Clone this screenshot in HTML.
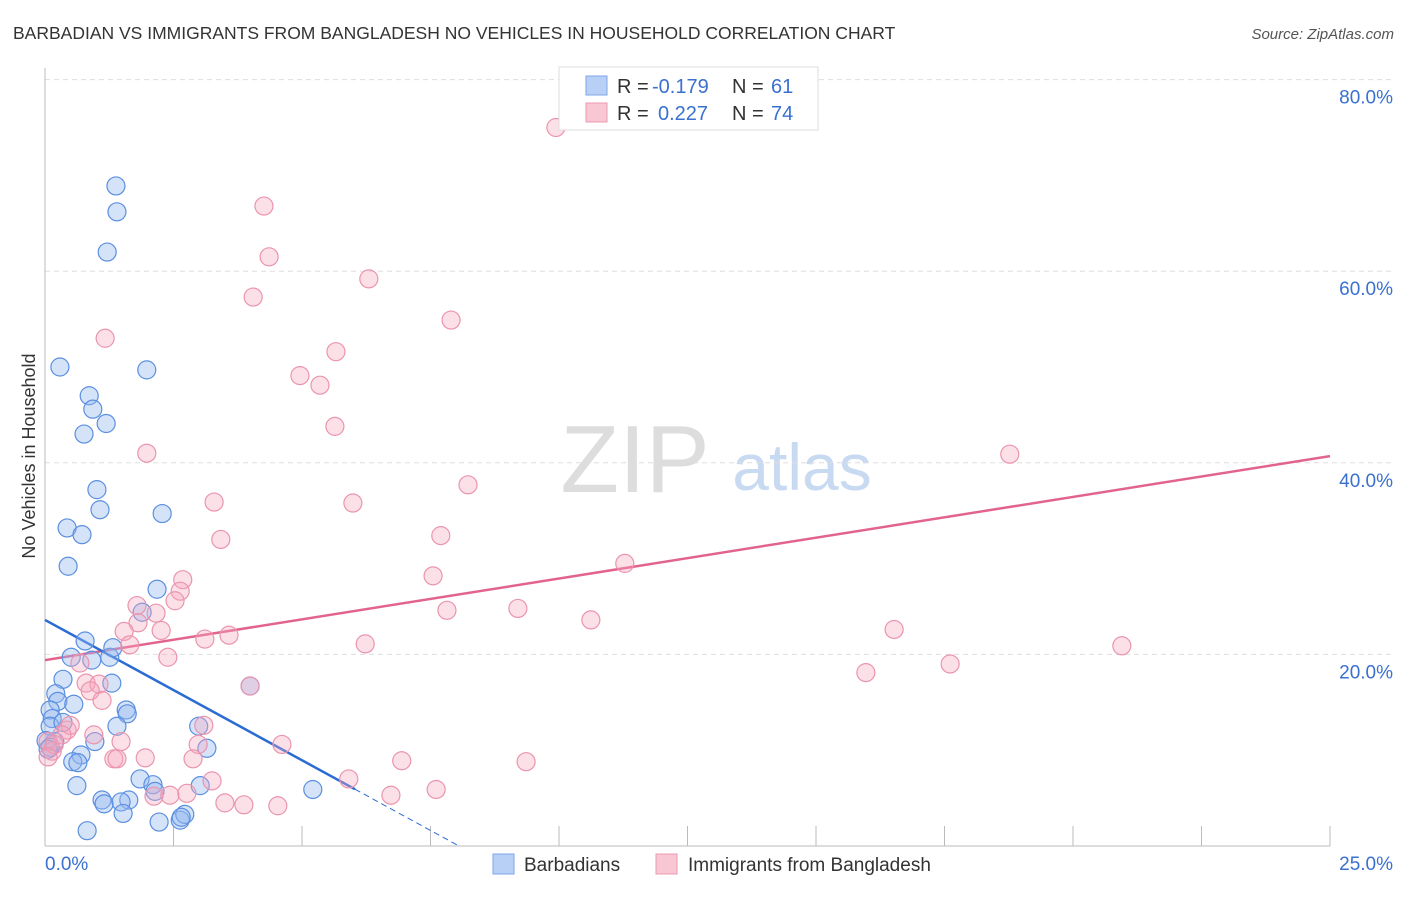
<!DOCTYPE html>
<html><head><meta charset="utf-8"><style>
body{margin:0;background:#fff;font-family:"Liberation Sans",sans-serif;}
svg text{font-family:"Liberation Sans",sans-serif;}
</style></head><body>
<svg id="chart" width="1406" height="892" xmlns="http://www.w3.org/2000/svg">
<text x="13" y="39" font-size="17.5" fill="#333">BARBADIAN VS IMMIGRANTS FROM BANGLADESH NO VEHICLES IN HOUSEHOLD CORRELATION CHART</text>
<text x="1394" y="39" font-size="15" fill="#555" font-style="italic" text-anchor="end">Source: ZipAtlas.com</text>
<text x="35" y="456" font-size="18" fill="#333" text-anchor="middle" transform="rotate(-90 35 456)">No Vehicles in Household</text>
<g><text x="635" y="492" font-size="96" fill="#ddd" font-family="Liberation Serif" text-anchor="middle">ZIP</text><text x="802" y="490" font-size="66" fill="#c8daf2" text-anchor="middle">atlas</text></g>
<g id="grid"></g><g id="axes"></g><g id="lines"></g><g id="pts"></g>
<g>
<rect x="559" y="67" width="259" height="63" fill="#fff" stroke="#ddd"/>
<rect x="586" y="76" width="21" height="19" fill="#b8d0f5" stroke="#7fa6e8"/>
<rect x="586" y="103" width="21" height="19" fill="#f9c6d4" stroke="#eb9ab2"/>
<text x="617" y="93" font-size="20" fill="#333">R =</text><text x="652" y="93" font-size="20" fill="#3a70d0">-0.179</text>
<text x="732" y="93" font-size="20" fill="#333">N =</text><text x="771" y="93" font-size="20" fill="#3a70d0">61</text>
<text x="617" y="120" font-size="20" fill="#333">R =</text><text x="658" y="120" font-size="20" fill="#3a70d0">0.227</text>
<text x="732" y="120" font-size="20" fill="#333">N =</text><text x="771" y="120" font-size="20" fill="#3a70d0">74</text>
</g>
<g>
<rect x="493" y="854" width="21" height="20" fill="#b8d0f5" stroke="#7fa6e8"/>
<text x="524" y="871" font-size="19" fill="#333">Barbadians</text>
<rect x="656" y="854" width="21" height="20" fill="#f9c6d4" stroke="#eb9ab2"/>
<text x="688" y="871" font-size="19" fill="#333">Immigrants from Bangladesh</text>
</g>
</svg>
<script>
const yTicks=[20,40,60,80];
const yTickLabels=["20.0%","40.0%","60.0%","80.0%"];
const xTickLabels=["0.0%","25.0%"];
const blueX=[1.38,1.40,1.21,0.29,1.98,0.86,0.93,1.19,0.76,1.01,1.07,2.28,0.43,0.72,0.45,2.18,1.89,0.78,0.51,0.91,1.26,1.32,1.30,0.35,0.21,0.25,0.56,0.10,0.14,0.10,1.58,1.60,1.40,2.99,0.35,0.19,0.97,0.70,0.54,0.64,3.15,3.99,0.62,1.85,2.10,2.14,1.11,1.15,1.63,1.48,1.52,2.22,2.63,2.72,5.21,0.82,0.02,0.10,0.06,3.02,2.65];
const blueY=[68.9,66.2,62.0,50.0,49.7,47.0,45.6,44.1,43.0,37.2,35.1,34.7,33.2,32.5,29.2,26.8,24.4,21.4,19.7,19.4,19.7,20.7,17.0,17.4,15.9,15.1,14.8,14.2,13.3,12.5,14.2,13.8,12.5,12.5,12.9,10.9,10.9,9.5,8.8,8.7,10.2,16.7,6.3,7.0,6.4,5.7,4.8,4.4,4.8,4.6,3.4,2.5,2.7,3.3,5.9,1.6,11.0,10.3,10.1,6.3,3.0];
const pinkX=[9.94,4.26,4.36,6.30,4.05,7.90,1.17,5.66,4.96,5.35,5.64,1.98,18.77,3.29,5.99,8.23,3.42,7.70,11.28,7.55,2.68,2.63,2.53,1.79,2.16,1.81,1.54,2.26,7.82,9.20,10.62,3.58,3.11,1.65,6.23,2.39,0.68,16.52,20.95,17.61,15.97,3.99,0.80,1.05,0.88,1.11,3.09,0.43,0.49,0.33,0.95,1.48,0.06,0.14,0.18,2.98,4.61,1.34,1.40,1.95,2.88,6.94,9.36,3.25,5.91,2.12,2.43,2.76,3.50,3.87,4.53,6.73,7.61,0.06];
const pinkY=[75.0,66.8,61.5,59.2,57.3,54.9,53.0,51.6,49.1,48.1,43.8,41.0,40.9,35.9,35.8,37.7,32.0,32.4,29.5,28.2,27.8,26.6,25.6,25.1,24.3,23.3,22.4,22.5,24.6,24.8,23.6,22.0,21.6,21.0,21.1,19.7,19.1,22.6,20.9,19.0,18.1,16.7,17.0,16.9,16.2,15.2,12.6,12.1,12.6,11.6,11.6,10.9,10.9,9.9,10.6,10.6,10.6,9.1,9.1,9.2,9.1,8.9,8.8,6.8,7.0,5.2,5.3,5.5,4.5,4.3,4.2,5.3,5.9,9.3];
const pinkTrend=[19.4,40.7];   // value at x=0 and x=25
const blueTrend=[23.6,-2.93]; // intercept, slope
const blueSolidEnd=6.03, blueDashEnd=8.05;
const NS="http://www.w3.org/2000/svg";
const X0=45,X1=1330,Y0=846,PXY=9.58;
const sx=v=>X0+(X1-X0)*v/25, sy=v=>Y0-v*PXY;
function mk(t,a,p){const e=document.createElementNS(NS,t);for(const k in a)e.setAttribute(k,a[k]);p.appendChild(e);return e;}
const grid=document.getElementById('grid'),axes=document.getElementById('axes');
yTicks.forEach((v,i)=>{
 const l=mk('line',{x1:X0,x2:1395,y1:sy(v),y2:sy(v),stroke:'#ddd','stroke-dasharray':'5,4'},grid);
 
 
 const t=mk('text',{x:1393,y:sy(v)+24,'font-size':19,fill:'#3a70d0','text-anchor':'end'},axes);
 t.textContent=yTickLabels[i];
 
 
});
let a=mk('line',{x1:X0,x2:X0,y1:68,y2:Y0,stroke:'#bbb'},axes);


a=mk('line',{x1:X0,x2:X1,y1:Y0,y2:Y0,stroke:'#bbb'},axes);


for(let i=1;i<=10;i++){const t=mk('line',{x1:sx(i*2.5),x2:sx(i*2.5),y1:826,y2:Y0,stroke:'#bbb'},axes);
 
 }
let xl=mk('text',{x:X0,y:870,'font-size':19,fill:'#3a70d0'},axes);xl.textContent=xTickLabels[0];


xl=mk('text',{x:1393,y:870,'font-size':19,fill:'#3a70d0','text-anchor':'end'},axes);xl.textContent=xTickLabels[1];


const pts=document.getElementById('pts');
blueX.forEach((x,i)=>{const c=mk('circle',{cx:sx(x),cy:sy(blueY[i]),r:9,fill:'rgba(150,185,240,0.4)',stroke:'#5b8fe0','stroke-width':1.2},pts);
 
 });
pinkX.forEach((x,i)=>{const c=mk('circle',{cx:sx(x),cy:sy(pinkY[i]),r:9,fill:'rgba(245,165,190,0.35)',stroke:'#eb94ae','stroke-width':1.2},pts);
 
 });
const lines=document.getElementById('lines');
let L=mk('line',{x1:sx(0),y1:sy(pinkTrend[0]),x2:sx(25),y2:sy(pinkTrend[1]),stroke:'#e2648e','stroke-width':2.5},lines);


L=mk('line',{x1:sx(0),y1:sy(blueTrend[0]),x2:sx(blueSolidEnd),y2:sy(blueTrend[0]+blueTrend[1]*blueSolidEnd),stroke:'#2a6bd4','stroke-width':2.5},lines);


L=mk('line',{x1:sx(blueSolidEnd),y1:sy(blueTrend[0]+blueTrend[1]*blueSolidEnd),x2:sx(blueDashEnd),y2:sy(blueTrend[0]+blueTrend[1]*blueDashEnd),stroke:'#2a6bd4','stroke-width':1,'stroke-dasharray':'6,4'},lines);


</script>
</body></html>
